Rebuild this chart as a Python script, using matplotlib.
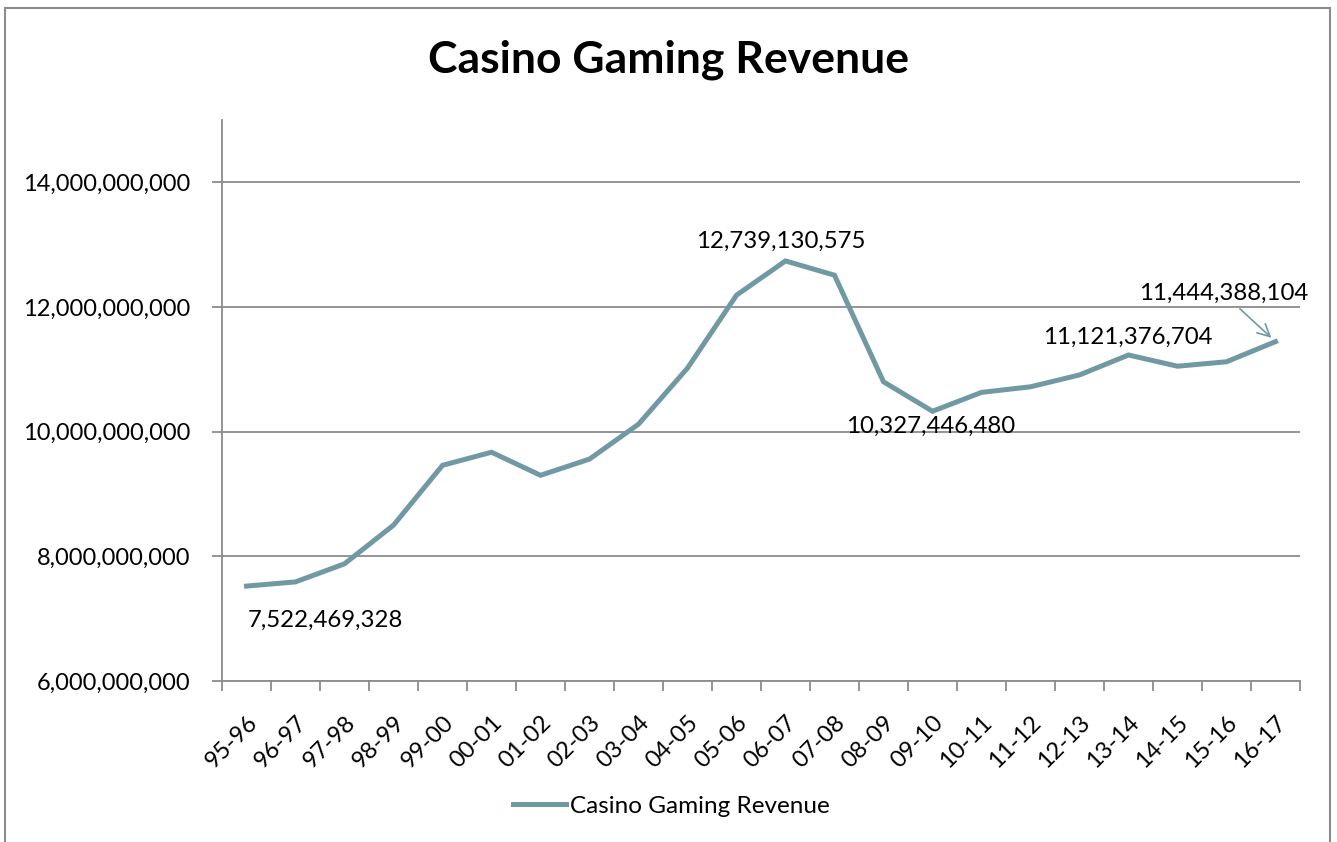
import matplotlib.pyplot as plt
import numpy as np
from matplotlib.patches import Rectangle
from matplotlib.ticker import FuncFormatter, FixedLocator

plt.rcParams['font.family'] = ['Lato', 'DejaVu Sans']

# Financial years and casino gaming revenue ($)
years = ['95-96', '96-97', '97-98', '98-99', '99-00', '00-01', '01-02', '02-03',
         '03-04', '04-05', '05-06', '06-07', '07-08', '08-09', '09-10', '10-11',
         '11-12', '12-13', '13-14', '14-15', '15-16', '16-17']
revenue = [7522469328, 7590000000, 7880000000, 8500000000, 9460000000, 9670000000,
           9300000000, 9560000000, 10120000000, 11020000000, 12190000000, 12739130575,
           12510000000, 10800000000, 10327446480, 10630000000, 10720000000, 10910000000,
           11230000000, 11050000000, 11121376704, 11444388104]

# labelled points: index, offset of label in pixels, arrow
labelled = [(0, (79, -34), False),
            (11, (-5, 20), False),
            (14, (-2, -15), False),
            (20, (-99, 24), False),
            (21, (-52, 48), True)]

line_color = '#7199A4'
grid_color = '#8C8C8C'

fig = plt.figure(figsize=(13.37, 8.42), dpi=100)
ax = fig.add_axes([222 / 1337, 1 - 681 / 842, (1300 - 222) / 1337, (681 - 120) / 842])

x = np.arange(len(years))
ax.plot(x, revenue, color=line_color, linewidth=3.6, solid_joinstyle='miter',
        label='Casino Gaming Revenue')

ax.set_xlim(-0.5, len(years) - 0.5)
ax.set_ylim(6e9, 15e9)
ax.set_yticks(np.arange(6e9, 14.1e9, 2e9))
ax.yaxis.set_major_formatter(FuncFormatter(lambda v, p: f'{v:,.0f}'))
ax.grid(axis='y', color=grid_color, linewidth=1.3)
ax.set_axisbelow(True)

ax.set_xticks(x)
ax.set_xticklabels(years, rotation=45, ha='right', rotation_mode='anchor')
ax.xaxis.set_minor_locator(FixedLocator(np.arange(-0.5, len(years), 1)))
ax.tick_params(axis='x', which='major', length=0, pad=22, labelsize=17)
ax.tick_params(axis='x', which='minor', length=7, width=1.3, color=grid_color)
ax.tick_params(axis='y', length=7, width=1.3, color=grid_color, labelsize=17, pad=16)

for side in ['top', 'right']:
    ax.spines[side].set_visible(False)
for side in ['left', 'bottom']:
    ax.spines[side].set_color(grid_color)
    ax.spines[side].set_linewidth(1.3)

for i, (dx, dy), arrow in labelled:
    props = dict(arrowstyle='->', color=line_color, lw=1.2, mutation_scale=22,
                 shrinkA=2, shrinkB=4) if arrow else None
    ax.annotate(f'{revenue[i]:,}', xy=(x[i], revenue[i]), xytext=(dx, dy),
                textcoords='offset pixels', ha='center', va='center',
                fontsize=17.3, arrowprops=props)

fig.text(668 / 1337, 1 - 60 / 842, 'Casino Gaming Revenue', ha='center', va='center',
         fontsize=32, fontweight='bold')

fig.legend(handles=ax.get_lines(), loc='center', bbox_to_anchor=(671 / 1337, 1 - 806 / 842),
           frameon=False, fontsize=17.5, handlelength=2.2, handletextpad=0.15)

# outer chart frame
fig.patches.append(Rectangle((5 / 1337, -0.05), (1330 - 5) / 1337, 1.05 - 8 / 842,
                             transform=fig.transFigure, fill=False,
                             edgecolor='#8C8C8C', linewidth=1.5))

fig.savefig('out.png', dpi=100)
